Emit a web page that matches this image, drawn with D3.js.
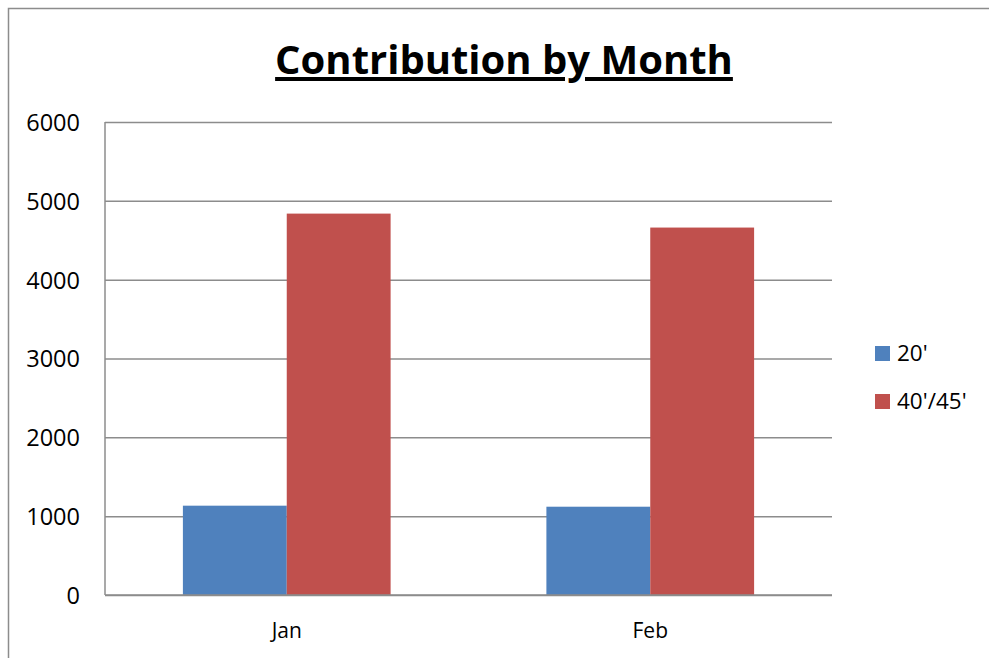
<!DOCTYPE html>
<html>
<head>
<meta charset="utf-8">
<script src="https://cdn.jsdelivr.net/npm/d3@7"></script>
<style>
  body { margin: 0; background: #fff; }
  text { font-family: "Open Sans", "Noto Sans", sans-serif; fill: #000; }
</style>
</head>
<body>
<script>
// chart data
const months = ['Jan', 'Feb'];
const seriesNames = ["20'", "40'/45'"];
const values20 = [1133, 1120];
const values40 = [4838, 4661];
const yTicks = [0, 1000, 2000, 3000, 4000, 5000, 6000];

const colors = ['#4F81BD', '#C0504D'];
const W = 989, H = 658;
const plot = { left: 105, right: 832, top: 122, bottom: 595 };

const svg = d3.select('body').append('svg')
  .attr('width', W)
  .attr('height', H);

// outer chart border (runs off right/bottom)
svg.append('path')
  .attr('d', 'M8.5,' + H + 'V8.5H' + W)
  .attr('fill', 'none')
  .attr('stroke', '#8c8c8c')
  .attr('stroke-width', 1.5);

// title
const title = svg.append('text')
  .attr('x', 504)
  .attr('y', 74)
  .attr('text-anchor', 'middle')
  .style('font-size', '38px')
  .style('font-weight', 'bold')
  .style('text-decoration', 'underline')
  .text('Contribution by Month');
// fit title to the width seen in the reference
const tw = title.node().getComputedTextLength();
title.style('font-size', (38 * 458 / tw) + 'px');

const x0 = d3.scaleBand()
  .domain(months)
  .range([plot.left, plot.right]);

// Excel-like gap width: bars take ~57% of each category
const x1 = d3.scaleBand()
  .domain(seriesNames)
  .range([0, x0.bandwidth()])
  .paddingOuter(0.75)
  .paddingInner(0);

const y = d3.scaleLinear()
  .domain([0, 6000])
  .range([plot.bottom, plot.top]);

// gridlines
const grid = svg.append('g')
  .attr('transform', 'translate(' + plot.left + ',0)')
  .call(d3.axisLeft(y).tickValues(yTicks).tickSize(-(plot.right - plot.left)).tickFormat(''));
grid.select('.domain').remove();
grid.selectAll('line')
  .attr('stroke', '#8c8c8c')
  .attr('stroke-width', 1.5);

// y labels
const yAxis = svg.append('g')
  .attr('transform', 'translate(' + plot.left + ',0)')
  .call(d3.axisLeft(y).tickValues(yTicks).tickSize(0).tickPadding(25).tickFormat(d3.format('d')));
yAxis.select('.domain').remove();
yAxis.selectAll('text')
  .attr('dy', '0.36em')
  .style('font-size', '23.5px')
  .style('font-family', '"Open Sans", sans-serif');

// bars
const rows = months.map((m, i) => ({ month: m, vals: [values20[i], values40[i]] }));
const groups = svg.append('g')
  .selectAll('g')
  .data(rows)
  .enter()
  .append('g')
  .attr('transform', d => 'translate(' + x0(d.month) + ',0)');

groups.selectAll('rect')
  .data(d => d.vals.map((v, j) => ({ key: seriesNames[j], v: v, j: j })))
  .enter()
  .append('rect')
  .attr('x', d => x1(d.key))
  .attr('width', x1.bandwidth())
  .attr('y', d => y(d.v))
  .attr('height', d => y(0) - y(d.v))
  .attr('fill', d => colors[d.j]);

// axis lines
svg.append('line')
  .attr('x1', plot.left).attr('x2', plot.left)
  .attr('y1', plot.top).attr('y2', plot.bottom)
  .attr('stroke', '#8c8c8c').attr('stroke-width', 1.5);
svg.append('line')
  .attr('x1', plot.left).attr('x2', plot.right)
  .attr('y1', plot.bottom).attr('y2', plot.bottom)
  .attr('stroke', '#8c8c8c').attr('stroke-width', 1.5);

// x labels
const xAxis = svg.append('g')
  .attr('transform', 'translate(0,' + plot.bottom + ')')
  .call(d3.axisBottom(x0).tickSize(0).tickPadding(28));
xAxis.select('.domain').remove();
xAxis.selectAll('text')
  .style('font-size', '21px')
  .style('font-family', '"Open Sans", sans-serif');

// legend
const legend = svg.append('g')
  .selectAll('g')
  .data(seriesNames)
  .enter()
  .append('g')
  .attr('transform', (d, i) => 'translate(875,' + (346 + i * 48) + ')');
legend.append('rect')
  .attr('width', 15)
  .attr('height', 15)
  .attr('fill', (d, i) => colors[i]);
legend.append('text')
  .attr('x', 22)
  .attr('y', 15)
  .style('font-size', '22.5px')
  .text(d => d);
</script>
</body>
</html>
